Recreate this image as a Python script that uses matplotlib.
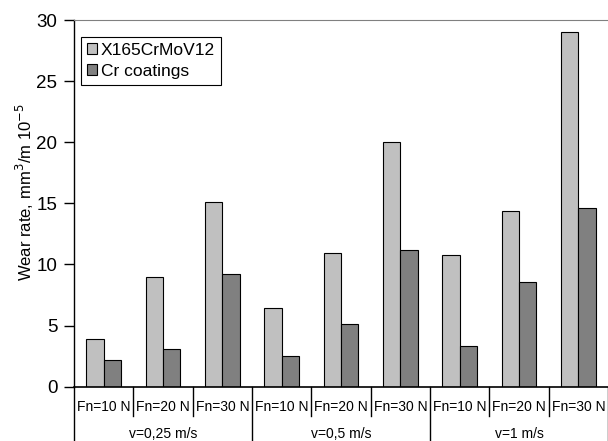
import matplotlib
matplotlib.use("Agg")
import matplotlib.pyplot as plt
from matplotlib.transforms import blended_transform_factory
import numpy as np

plt.rcParams['font.family'] = ['Liberation Sans', 'DejaVu Sans']

# wear rate, mm3/m 10^-5
loads = ["Fn=10 N", "Fn=20 N", "Fn=30 N"] * 3
speeds = ["v=0,25 m/s", "v=0,5 m/s", "v=1 m/s"]
steel = [3.9, 9.0, 15.1, 6.4, 10.9, 20.0, 10.8, 14.4, 29.0]
coating = [2.2, 3.1, 9.2, 2.5, 5.1, 11.2, 3.3, 8.6, 14.6]

fig = plt.figure(figsize=(6.08, 4.41), dpi=100)
ax = fig.add_axes([0.1217, 0.1231, 0.8783, 0.8315])

x = np.arange(len(loads))
w = 0.29
ax.bar(x - w / 2, steel, w, color="#c0c0c0", edgecolor="black", linewidth=0.8, label="X165CrMoV12")
ax.bar(x + w / 2, coating, w, color="#808080", edgecolor="black", linewidth=0.8, label="Cr coatings")

ax.set_xlim(-0.5, len(loads) - 0.5)
ax.set_ylim(0, 30)
ax.set_yticks(range(0, 31, 5))
ax.tick_params(axis="y", labelsize=13.5, length=7, width=1, pad=5)
ax.set_xticks([])
ax.set_ylabel("Wear rate, mm$^3$/m 10$^{-5}$", fontsize=12)
ax.yaxis.set_label_coords(-0.072, 0.53)

ax.spines["right"].set_visible(False)
ax.spines["top"].set_color("#808080")
ax.spines["left"].set_linewidth(1)
ax.spines["bottom"].set_linewidth(1.2)

# category labels under the axis
tr = blended_transform_factory(ax.transData, ax.transAxes)
for i, lab in enumerate(loads):
    ax.text(i, -0.055, lab, transform=tr, ha="center", va="center", fontsize=10)
for i in range(len(loads) + 1):
    low = -0.17 if i % 3 == 0 else -0.08
    ax.plot([i - 0.5, i - 0.5], [0, low], transform=tr, color="black", lw=1, clip_on=False)
for j, lab in enumerate(speeds):
    ax.text(3 * j + 1, -0.13, lab, transform=tr, ha="center", va="center", fontsize=10)

leg = ax.legend(loc="upper left", bbox_to_anchor=(0.013, 0.954), fontsize=12.5, fancybox=False,
                framealpha=1, edgecolor="black", handlelength=0.6, handleheight=0.6,
                handletextpad=0.2, borderpad=0.35, labelspacing=0.35, borderaxespad=0)
leg.get_frame().set_linewidth(0.8)

fig.savefig("out.png", dpi=100)
